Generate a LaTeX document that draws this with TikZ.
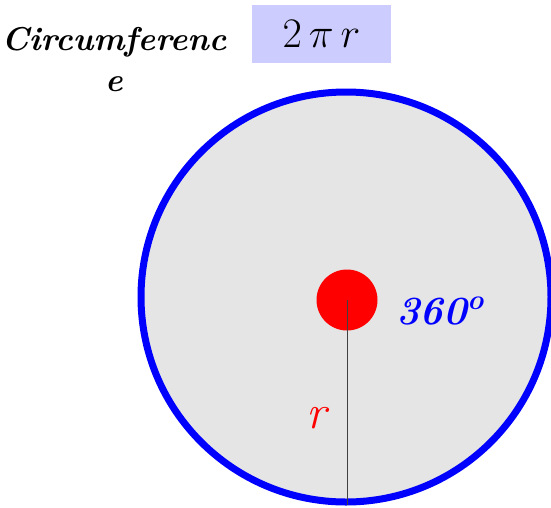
\documentclass[tikz,border=0pt]{standalone}
\usepackage{fix-cm}
\definecolor{discgray}{RGB}{229,229,229}
\definecolor{boxlavender}{RGB}{204,204,255}
\begin{document}
\begin{tikzpicture}[x=1pt, y=-1pt]
  \useasboundingbox (0,0) rectangle (551,507);
  % Disc and its rim
  \node[circle, draw=blue, fill=discgray, line width=7pt, minimum size=410pt, inner sep=0pt] (disk) at (346,297) {};
  % Centre point and radius
  \node[circle, fill=red, minimum size=61pt, inner sep=0pt] (o) at (347,300) {};
  \coordinate (rim) at (347,505);
  \draw[line width=0.9pt, black!75] (o.center) -- (rim);
  % Labels
  \node[anchor=base west, inner sep=0pt, text=red, font=\itshape\fontsize{48}{48}\selectfont] (rlabel) at (306,428) {r};
  \node[anchor=base west, inner sep=0pt, text=blue, font=\bfseries\itshape\fontsize{40}{40}\selectfont] (angle) at (396,324) {360\textsuperscript{o}};
  \node[align=center, inner sep=0pt, font=\bfseries\itshape\fontsize{33}{41}\selectfont] (circ) at (114,60) {Circumferenc\\e};
  \node[fill=boxlavender, minimum width=139pt, minimum height=58pt, inner sep=0pt, font=\fontsize{42}{42}\selectfont] (formula) at (321.5,34) {$2\,\pi\,r$};
\end{tikzpicture}
\end{document}
